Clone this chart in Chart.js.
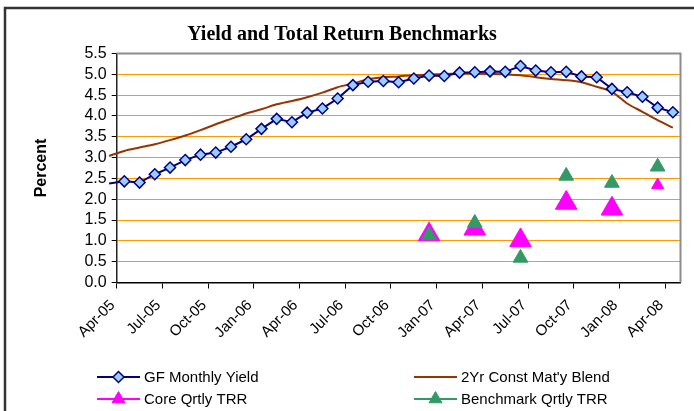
<!DOCTYPE html>
<html>
<head>
<meta charset="utf-8">
<script src="https://cdn.jsdelivr.net/npm/chart.js@4/dist/chart.umd.min.js"></script>
<style>
	html, body { margin: 0; padding: 0; background: #fff; }
	#wrap { position: relative; width: 694px; height: 411px; }
</style>
</head>
<body>
<div id="wrap"><canvas id="c" width="694" height="411"></canvas></div>
<script>
// Monthly series start one month before the axis (Mar-05) so the lines run
// in from the left edge like the original.
const months = [
	'Mar-05', 'Apr-05', 'May-05', 'Jun-05', 'Jul-05', 'Aug-05', 'Sep-05', 'Oct-05', 'Nov-05', 'Dec-05',
	'Jan-06', 'Feb-06', 'Mar-06', 'Apr-06', 'May-06', 'Jun-06', 'Jul-06', 'Aug-06', 'Sep-06', 'Oct-06',
	'Nov-06', 'Dec-06', 'Jan-07', 'Feb-07', 'Mar-07', 'Apr-07', 'May-07', 'Jun-07', 'Jul-07', 'Aug-07',
	'Sep-07', 'Oct-07', 'Nov-07', 'Dec-07', 'Jan-08', 'Feb-08', 'Mar-08', 'Apr-08',
];
const gfYield = [
	2.38, 2.43, 2.40, 2.60, 2.76, 2.94, 3.07, 3.12, 3.26, 3.44, 3.69, 3.93, 3.85,
	4.08, 4.18, 4.42, 4.74, 4.82, 4.84, 4.81, 4.90, 4.97, 4.96, 5.04, 5.05,
	5.07, 5.06, 5.20, 5.09, 5.05, 5.06, 4.95, 4.93, 4.65, 4.57, 4.46, 4.20, 4.09,
];
const blend2yr = [
	3.04, 3.16, 3.24, 3.32, 3.42, 3.53, 3.66, 3.80, 3.93, 4.06, 4.16, 4.28, 4.36,
	4.45, 4.56, 4.69, 4.78, 4.88, 4.93, 4.95, 4.98, 4.99, 5.01, 5.02, 5.02,
	5.01, 5.00, 4.98, 4.93, 4.89, 4.86, 4.81, 4.70, 4.58, 4.30, 4.10, 3.90, 3.72,
];
const quarters = ['Dec-06', 'Mar-07', 'Jun-07', 'Sep-07', 'Dec-07', 'Mar-08'];
const coreTrr = [1.15, 1.29, 1.01, 1.91, 1.77, 2.34];
const benchTrr = [1.14, 1.43, 0.59, 2.56, 2.39, 2.78];
// axis labels every third month, Apr-05 .. Apr-08
const tickMonths = ['Apr-05', 'Jul-05', 'Oct-05', 'Jan-06', 'Apr-06', 'Jul-06', 'Oct-06',
	'Jan-07', 'Apr-07', 'Jul-07', 'Oct-07', 'Jan-08', 'Apr-08'];

const LEGEND_X = [97, 414];
const LEGEND_Y = [377, 399];
const FONT = '"Liberation Sans", Arial, sans-serif';

// month index -> x position: category centres, boundaries on integers
const monthX = (i) => i - 0.5;
const monthly = (values) => values.map((v, i) => ({ x: monthX(i), y: v }));
const quarterly = (values) => values.map((v, i) => ({ x: monthX(months.indexOf(quarters[i])), y: v }));

const framePlugin = {
	id: 'frame',
	beforeDraw(chart) {
		const ctx = chart.ctx;
		ctx.save();
		ctx.fillStyle = '#fff';
		ctx.fillRect(0, 0, chart.width, chart.height);
		ctx.strokeStyle = '#333';
		ctx.lineWidth = 2.5;
		ctx.strokeRect(5, 8, 720, 440);
		ctx.restore();
	},
	beforeDatasetsDraw(chart) {
		const { left, top, right, bottom } = chart.chartArea;
		const ctx = chart.ctx;
		ctx.save();
		ctx.strokeStyle = '#8c8c8c';
		ctx.lineWidth = 2;
		ctx.beginPath();
		ctx.moveTo(left, top);
		ctx.lineTo(right, top);
		ctx.lineTo(right, bottom);
		ctx.stroke();
		ctx.restore();
	},
};

// Two-column legend under the chart, like the spreadsheet's.
const legendPlugin = {
	id: 'gridLegend',
	afterDraw(chart) {
		const ctx = chart.ctx;
		ctx.save();
		ctx.font = '15px ' + FONT;
		ctx.textBaseline = 'middle';
		chart.data.datasets.forEach((ds, i) => {
			const x = LEGEND_X[i % 2];
			const y = LEGEND_Y[Math.floor(i / 2)];
			ctx.strokeStyle = ds.borderColor;
			ctx.lineWidth = 2;
			ctx.beginPath();
			ctx.moveTo(x, y);
			ctx.lineTo(x + 43, y);
			ctx.stroke();
			if (ds.legendMarker) {
				ctx.fillStyle = ds.pointBackgroundColor;
				ctx.strokeStyle = ds.pointBorderColor;
				ctx.lineWidth = ds.legendMarker.borderWidth;
				Chart.helpers.drawPoint(ctx, { pointStyle: ds.pointStyle, radius: ds.legendMarker.radius, borderWidth: ds.legendMarker.borderWidth, rotation: 0 }, x + 21.5, y);
			}
			ctx.fillStyle = '#000';
			ctx.fillText(ds.label, x + 47, y + 1);
		});
		ctx.restore();
	},
};

new Chart(document.getElementById('c'), {
	type: 'scatter',
	data: {
		datasets: [
			{
				label: 'GF Monthly Yield',
				data: monthly(gfYield),
				showLine: true,
				clip: false,
				order: 0,
				borderColor: '#000080',
				borderWidth: 2,
				pointStyle: 'rectRot',
				pointRadius: (c) => (c.dataIndex === 0 ? 0 : 5.5),
				pointBackgroundColor: '#99ccff',
				pointBorderColor: '#000080',
				pointBorderWidth: 1.5,
				legendMarker: { radius: 5.5, borderWidth: 1.5 },
			},
			{
				label: "2Yr Const Mat'y Blend",
				data: monthly(blend2yr),
				showLine: true,
				clip: false,
				order: 1,
				borderColor: '#993300',
				borderWidth: 2,
				tension: 0.3,
				pointRadius: 0,
			},
			{
				label: 'Core Qrtly TRR',
				data: quarterly(coreTrr),
				order: 3,
				borderColor: '#ff00ff',
				pointStyle: 'triangle',
				pointRadius: [12.5, 12.5, 12.5, 12.5, 12.5, 7],
				pointBackgroundColor: '#ff00ff',
				pointBorderColor: '#ff00ff',
				pointBorderWidth: 1,
				legendMarker: { radius: 7.5, borderWidth: 1 },
			},
			{
				label: 'Benchmark Qrtly TRR',
				data: quarterly(benchTrr),
				order: 2,
				borderColor: '#339966',
				pointStyle: 'triangle',
				pointRadius: 8.5,
				pointBackgroundColor: '#339966',
				pointBorderColor: '#339966',
				pointBorderWidth: 1,
				legendMarker: { radius: 7.5, borderWidth: 1 },
			},
		],
	},
	options: {
		responsive: false,
		animation: false,
		layout: { padding: { left: 0, top: 0, right: 10, bottom: 60.5 } },
		plugins: {
			legend: { display: false },
			tooltip: { enabled: false },
			title: {
				display: true,
				text: 'Yield and Total Return Benchmarks',
				color: '#000',
				font: { family: '"Liberation Serif", "Times New Roman", serif', size: 20, weight: 'bold', lineHeight: 1.2 },
				padding: { top: 22.5, bottom: 7 },
			},
		},
		scales: {
			x: {
				type: 'linear',
				min: 0,
				max: 37,
				afterFit: (s) => { s.height = 68; },
				afterBuildTicks: (s) => {
					s.ticks = tickMonths.map((m) => ({ value: months.indexOf(m) - 1 }));
				},
				grid: { drawOnChartArea: false, drawTicks: true, tickLength: 6, tickColor: '#000' },
				border: { color: '#000', width: 1.5 },
				ticks: {
					autoSkip: false,
					minRotation: 45,
					maxRotation: 45,
					padding: 8,
					labelOffset: -4,
					color: '#000',
					font: { family: FONT, size: 15 },
					callback: (v) => months[v + 1],
				},
			},
			y: {
				min: 0,
				max: 5.5,
				afterFit: (s) => { s.width = 116.7; },
				grid: {
					color: (c) => (c.tick && (c.tick.value === 0 || c.tick.value === 5.5) ? 'rgba(0,0,0,0)' : '#ff9900'),
					lineWidth: 1,
					tickLength: 5,
					tickColor: '#000',
				},
				border: { color: '#222', width: 1.5 },
				ticks: {
					stepSize: 0.5,
					maxTicksLimit: 20,
					autoSkip: false,
					padding: 5,
					color: '#000',
					font: { family: FONT, size: 16 },
					callback: (v) => v.toFixed(1),
				},
				title: {
					display: true,
					text: 'Percent',
					color: '#000',
					font: { family: FONT, size: 16, weight: 'bold', lineHeight: 1.2 },
					padding: { top: 31.5, bottom: 0 },
				},
			},
		},
	},
	plugins: [framePlugin, legendPlugin],
});
</script>
</body>
</html>
